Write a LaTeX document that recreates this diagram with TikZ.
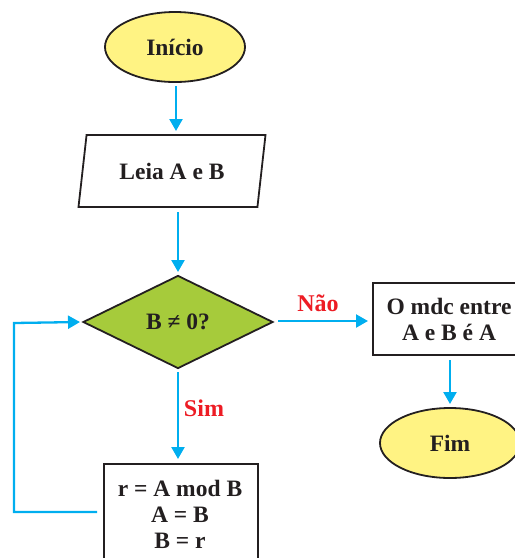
\documentclass[tikz,border=0pt]{standalone}
\usepackage{fontspec}
\setmainfont{Liberation Serif}
\usetikzlibrary{shapes.geometric,arrows.meta}
\definecolor{arrowc}{HTML}{00AEEF}
\definecolor{termc}{HTML}{FFF383}
\definecolor{decc}{HTML}{A6CB3B}
\definecolor{labc}{HTML}{ED1C24}
\definecolor{inkc}{HTML}{231F20}
\begin{document}
\begin{tikzpicture}[x=1pt,y=-1pt,
  every node/.style={font=\fontsize{23.5}{26}\selectfont\bfseries, text=inkc},
  term/.style={ellipse, draw=inkc, line width=1.8pt, fill=termc, minimum width=140pt, minimum height=70pt, inner sep=0pt},
  io/.style={trapezium, trapezium left angle=64, trapezium right angle=116, trapezium stretches body, draw=inkc, line width=1.8pt, fill=white, minimum width=187pt, minimum height=72pt, inner sep=0pt},
  dec/.style={diamond, draw=inkc, line width=1.8pt, fill=decc, minimum width=190pt, minimum height=93pt, inner sep=0pt, aspect=2.04},
  proc/.style={rectangle, draw=inkc, line width=1.8pt, fill=white, align=center},
  flow/.style={draw=arrowc, line width=2.3pt, -{Triangle[width=13pt,length=12pt]}},
  lab/.style={text=labc, font=\fontsize{24}{26}\selectfont\bfseries}
]
\useasboundingbox (0,0) rectangle (515,558);
\clip (0,0) rectangle (515,558);
\node[term] (ini) at (175,47) {Início};
\node[io] (leia) at (172,171) {Leia A e B};
\node[dec] (d) at (178,322) {B ≠ 0?};
\node[proc, minimum width=154pt, minimum height=120pt, anchor=north west, inner sep=0pt] (r) at (103,463) {};
\node[align=center] (rt) at (180,514) {r = A mod B\\A = B\\B = r};
\node[proc, minimum width=150pt, minimum height=72pt, anchor=north west, inner sep=0pt] (o) at (372,282) {};
\node[align=center] (ot) at (449,319) {O mdc entre\\A e B é A};
\node[term] (fim) at (450,443) {Fim};
\coordinate (a1) at (176,86);
\coordinate (a2) at (176,131);
\draw[flow] (a1) -- (a2);
\coordinate (b1) at (178,212);
\coordinate (b2) at (178,272);
\draw[flow] (b1) -- (b2);
\coordinate (c1) at (178,372);
\coordinate (c2) at (178,459);
\draw[flow] (c1) -- (c2);
\coordinate (e1) at (278,321);
\coordinate (e2) at (368,321);
\draw[flow] (e1) -- (e2);
\coordinate (f1) at (450,360);
\coordinate (f2) at (450,404);
\draw[flow] (f1) -- (f2);
\coordinate (g1) at (97,512);
\coordinate (g2) at (14,512);
\coordinate (g3) at (14,323);
\coordinate (g4) at (80,322);
\draw[flow] (g1) -- (g2) -- (g3) -- (g4);
\node[lab] (sim) at (204,408) {Sim};
\node[lab] (nao) at (318,303) {Não};
\end{tikzpicture}
\end{document}
